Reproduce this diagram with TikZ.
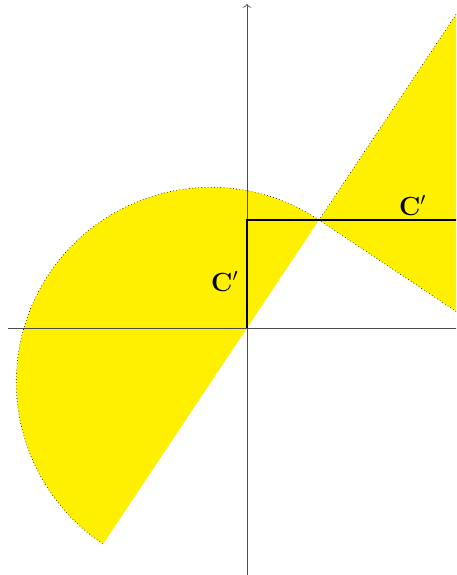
\documentclass[tikz,border=0pt]{standalone}
\usepackage{amsmath,amssymb}
\usepackage{tikz}
\usetikzlibrary{arrows.meta}
\definecolor{lemon}{RGB}{255,240,0}

\begin{document}
\begin{tikzpicture}
\useasboundingbox (-6.86,-6.86) rectangle (5.81,9.11);
\clip (-6.86,-6.86) rectangle (5.81,9.11);
\coordinate (O) at (0,0);
\coordinate (P) at (2,3);
\coordinate (Q) at (0,3);
\fill[lemon] (P) arc[start angle=56.31,end angle=236.31,radius=5.408] -- cycle;
\draw[dotted,line width=0.5pt] (P) arc[start angle=56.31,end angle=236.31,radius=5.408];
\fill[lemon] (8,12) -- (P) -- (8,-1) -- cycle;
\draw[dotted,line width=0.5pt] (8,12) -- (P) -- (8,-1);
\draw[gray!60!black,line width=0.5pt] (-6.64,0) -- (6.5,0);
\draw[gray!60!black,line width=0.5pt,-{To[length=3pt,width=7pt]}] (0,-7) -- (0,9.0);
\draw[line width=1.5pt] (O) -- (Q) -- (6.5,3);
\node[left] (cl) at (-0.12,1.3) {\huge $\mathbf{C}'$};
\node[above] (cr) at (4.6,3.0) {\huge $\mathbf{C}'$};
\end{tikzpicture}
\end{document}
